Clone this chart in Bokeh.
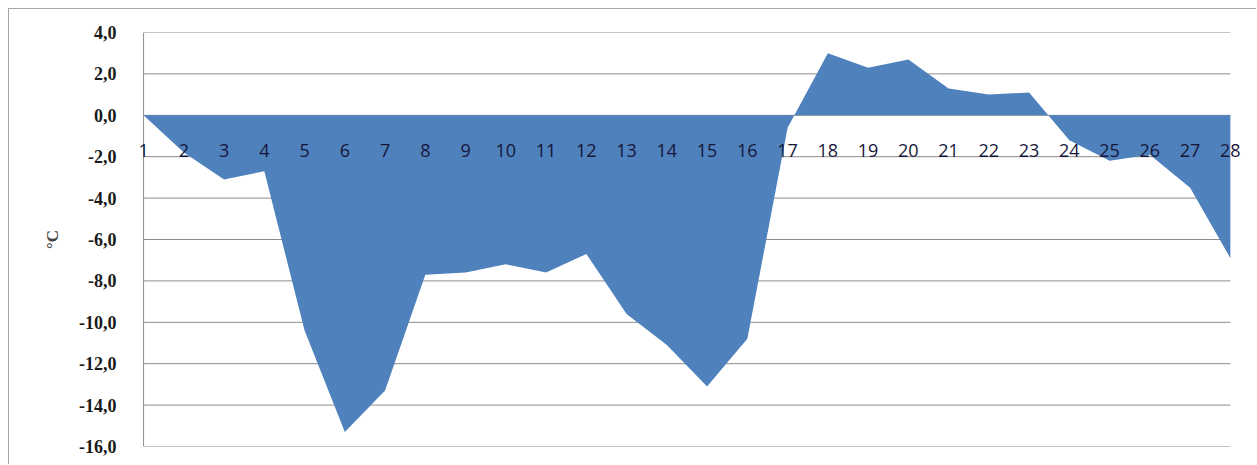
from bokeh.plotting import figure
from bokeh.models import FixedTicker, CustomJSTickFormatter, Range1d, LabelSet, ColumnDataSource
from bokeh.core.properties import value
from bokeh.embed import file_html
from bokeh.resources import INLINE

days = list(range(1, 29))
day_labels = [str(d) for d in days]
temps = [0.0, -1.8, -3.1, -2.7, -10.4, -15.3, -13.3, -7.7, -7.6, -7.2, -7.6, -6.7,
         -9.6, -11.1, -13.1, -10.8, -0.6, 3.0, 2.3, 2.7, 1.3, 1.0, 1.1, -1.2,
         -2.2, -1.9, -3.5, -6.9]
y_ticks = [-16, -14, -12, -10, -8, -6, -4, -2, 0, 2, 4]
y_label = "°C"

x_lo, x_hi = days[0], days[-1]

p = figure(width=1248, height=456, output_backend="svg", toolbar_location=None,
           x_range=Range1d(x_lo - 0.3, x_hi + 0.5), y_range=Range1d(-16, 4),
           min_border_left=122, min_border_right=7, min_border_top=23,
           min_border_bottom=19)
p.styles = {"margin-left": "8px", "margin-top": "8px",
            "border-left": "1px solid #a6a6a6", "border-top": "1px solid #a6a6a6"}
p.outline_line_color = None
p.xgrid.grid_line_color = None
p.ygrid.grid_line_color = None

# horizontal gridlines spanning the category range, and the value axis line
p.segment(x0=[x_lo] * len(y_ticks), x1=[x_hi] * len(y_ticks), y0=y_ticks, y1=y_ticks,
          line_color="#8c8c8c", line_width=1)
p.segment(x0=[x_lo], x1=[x_lo], y0=[y_ticks[0]], y1=[y_ticks[-1]],
          line_color="#8c8c8c", line_width=1)

p.varea(x=days, y1=[0] * len(days), y2=temps, fill_color="#4f81bd")

# y axis
p.yaxis.ticker = FixedTicker(ticks=y_ticks)
p.yaxis.formatter = CustomJSTickFormatter(code="return tick.toFixed(1).replace('.', ',');")
p.yaxis.major_label_text_font = "Liberation Serif"
p.yaxis.major_label_text_font_style = "bold"
p.yaxis.major_label_text_font_size = "18px"
p.yaxis.major_label_text_color = "#1a1a1a"
p.yaxis.major_label_standoff = 9
p.yaxis.major_tick_line_color = None
p.yaxis.minor_tick_line_color = None
p.yaxis.axis_line_color = None
p.yaxis.axis_label = y_label
p.yaxis.axis_label_text_font = "Liberation Serif"
p.yaxis.axis_label_text_font_style = "bold"
p.yaxis.axis_label_text_font_size = "17px"
p.yaxis.axis_label_standoff = 14

# category labels sitting just below the zero line
p.xaxis.visible = False
src = ColumnDataSource(dict(x=days, y=[0] * len(days), t=day_labels))
p.add_layout(LabelSet(x="x", y="y", text="t", source=src, y_offset=-35,
                      text_align="center", text_baseline="middle",
                      text_font=value("Open Sans"), text_font_size=value("18px"),
                      text_color="#16163a"))

open("out.html", "w").write(file_html(p, INLINE))
